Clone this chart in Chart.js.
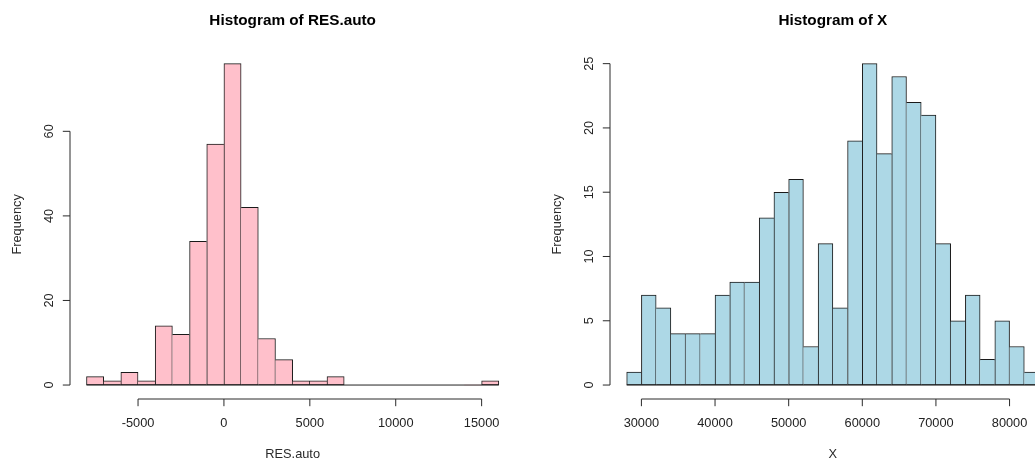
<!DOCTYPE html>
<html>
<head>
<meta charset="utf-8">
<title>Histograms</title>
<script src="https://cdn.jsdelivr.net/npm/chart.js@4.4.1/dist/chart.umd.min.js"></script>
<style>
  html, body { margin: 0; padding: 0; background: #ffffff; overflow: hidden; }
  #wrap { position: relative; width: 1035px; height: 462px; overflow: hidden; }
  #wrap canvas { position: absolute; top: 0; }
</style>
</head>
<body>
<div id="wrap">
  <canvas id="histRes" width="520" height="462" style="left:0px"></canvas>
  <canvas id="histX" width="545" height="462" style="left:520px"></canvas>
</div>
<script>
// ---- Histogram of RES.auto: bin edges and counts ----
const resBreaks = [-8000, -7000, -6000, -5000, -4000, -3000, -2000, -1000, 0,
                   1000, 2000, 3000, 4000, 5000, 6000, 7000, 8000, 9000, 10000,
                   11000, 12000, 13000, 14000, 15000, 16000];
const resCounts = [2, 1, 3, 1, 14, 12, 34, 57, 76, 42, 11, 6, 1, 1, 2,
                   0, 0, 0, 0, 0, 0, 0, 0, 1];
const resTicksX = [-5000, 0, 5000, 10000, 15000];
const resTicksY = [0, 20, 40, 60];

// ---- Histogram of X: bin edges and counts ----
const xBreaks = [28000, 30000, 32000, 34000, 36000, 38000, 40000, 42000, 44000,
                 46000, 48000, 50000, 52000, 54000, 56000, 58000, 60000, 62000,
                 64000, 66000, 68000, 70000, 72000, 74000, 76000, 78000, 80000,
                 82000, 84000];
const xCounts = [1, 7, 6, 4, 4, 4, 7, 8, 8, 13, 15, 16, 3, 11, 6, 19, 25, 18,
                 24, 22, 21, 11, 5, 7, 2, 5, 3, 1];
const xTicksX = [30000, 40000, 50000, 60000, 70000, 80000];
const xTicksY = [0, 5, 10, 15, 20, 25];

const FONT = '"Liberation Sans", Arial, Helvetica, sans-serif';

// Draws base-graphics style axes: lines spanning first to last tick,
// outward tick marks, upright x labels, rotated y labels, and titles.
const baseAxesPlugin = {
  id: 'baseAxes',
  afterDraw(chart, args, opts) {
    const { ctx, chartArea: a } = chart;
    const xs = chart.scales.x, ys = chart.scales.y;
    ctx.save();
    ctx.strokeStyle = '#2a2a2a';
    ctx.lineWidth = 1;

    // x axis
    const axY = Math.round(a.bottom) + 1;
    const px = opts.xTicks.map(v => xs.getPixelForValue(v));
    ctx.beginPath();
    ctx.moveTo(px[0], axY);
    ctx.lineTo(px[px.length - 1], axY);
    px.forEach(p => { ctx.moveTo(p, axY); ctx.lineTo(p, axY + 7.2); });
    ctx.stroke();

    // y axis
    const axX = Math.round(a.left);
    const py = opts.yTicks.map(v => ys.getPixelForValue(v));
    ctx.beginPath();
    ctx.moveTo(axX, py[0]);
    ctx.lineTo(axX, py[py.length - 1]);
    py.forEach(p => { ctx.moveTo(axX, p); ctx.lineTo(axX - 7.2, p); });
    ctx.stroke();

    // tick labels
    ctx.fillStyle = '#222222';
    ctx.font = '12.8px ' + FONT;
    ctx.textAlign = 'center';
    ctx.textBaseline = 'alphabetic';
    opts.xTicks.forEach((v, i) => ctx.fillText(String(v), px[i], a.bottom + 28.6));
    opts.yTicks.forEach((v, i) => {
      ctx.save();
      ctx.translate(axX - 17.3, py[i]);
      ctx.rotate(-Math.PI / 2);
      ctx.fillText(String(v), 0, 0);
      ctx.restore();
    });

    // axis titles
    const cx = (a.left + a.right) / 2;
    ctx.fillStyle = '#2a2a2a';
    ctx.fillText(opts.xLabel, cx, 457.5);
    ctx.save();
    ctx.translate(axX - 49, (a.top + a.bottom) / 2);
    ctx.rotate(-Math.PI / 2);
    ctx.fillText(opts.yLabel, 0, 0);
    ctx.restore();

    // main title
    ctx.fillStyle = '#000000';
    ctx.font = 'bold 15.3px ' + FONT;
    ctx.fillText(opts.title, cx, 25);
    ctx.restore();
  }
};

function makeHistogram(canvasId, breaks, counts, ticksX, ticksY, fill, title, xLabel, padding) {
  const bars = counts.map((c, i) => ({ x: (breaks[i] + breaks[i + 1]) / 2, y: c }));
  const first = breaks[0], last = breaks[breaks.length - 1];
  const span = last - first;
  const top = Math.max(...counts);

  // shared edges between neighbouring bars are outlined once, by the taller bar
  const edgeWidths = (ctx) => {
    const i = ctx.dataIndex;
    const h = counts[i];
    const prev = i > 0 ? counts[i - 1] : -1;
    const next = i < counts.length - 1 ? counts[i + 1] : -1;
    return { top: 1, bottom: 1, left: h > prev ? 1 : 0, right: h >= next ? 1 : 0 };
  };

  return new Chart(document.getElementById(canvasId), {
    type: 'bar',
    data: {
      datasets: [
        {
          type: 'line',
          data: [{ x: first, y: 0 }, { x: last, y: 0 }],
          borderColor: '#222222',
          borderWidth: 1,
          pointRadius: 0,
          order: 0
        },
        {
          type: 'bar',
          data: bars,
          backgroundColor: fill,
          borderColor: '#1a1a1a',
          borderWidth: edgeWidths,
          borderSkipped: false,
          barPercentage: 1,
          categoryPercentage: 1,
          order: 1
        }
      ]
    },
    options: {
      responsive: false,
      animation: false,
      devicePixelRatio: 1,
      events: [],
      layout: { padding },
      scales: {
        x: {
          type: 'linear',
          display: false,
          offset: false,
          min: first - 0.04 * span,
          max: last + 0.04 * span,
          afterBuildTicks: s => { s.ticks = ticksX.map(v => ({ value: v })); }
        },
        y: {
          type: 'linear',
          display: false,
          min: -0.04 * top,
          max: top * 1.04,
          afterBuildTicks: s => { s.ticks = ticksY.map(v => ({ value: v })); }
        }
      },
      plugins: {
        legend: { display: false },
        tooltip: { enabled: false },
        title: { display: false },
        baseAxes: { xTicks: ticksX, yTicks: ticksY, title, xLabel, yLabel: 'Frequency' }
      }
    },
    plugins: [baseAxesPlugin]
  });
}

makeHistogram('histRes', resBreaks, resCounts, resTicksX, resTicksY, '#FFC0CB',
  'Histogram of RES.auto', 'RES.auto',
  { left: 70, right: 4.7, top: 50.8, bottom: 64.1 });

makeHistogram('histX', xBreaks, xCounts, xTicksX, xTicksY, '#ADD8E6',
  'Histogram of X', 'X',
  { left: 90.2, right: 9.5, top: 50.8, bottom: 64.1 });
</script>
</body>
</html>
